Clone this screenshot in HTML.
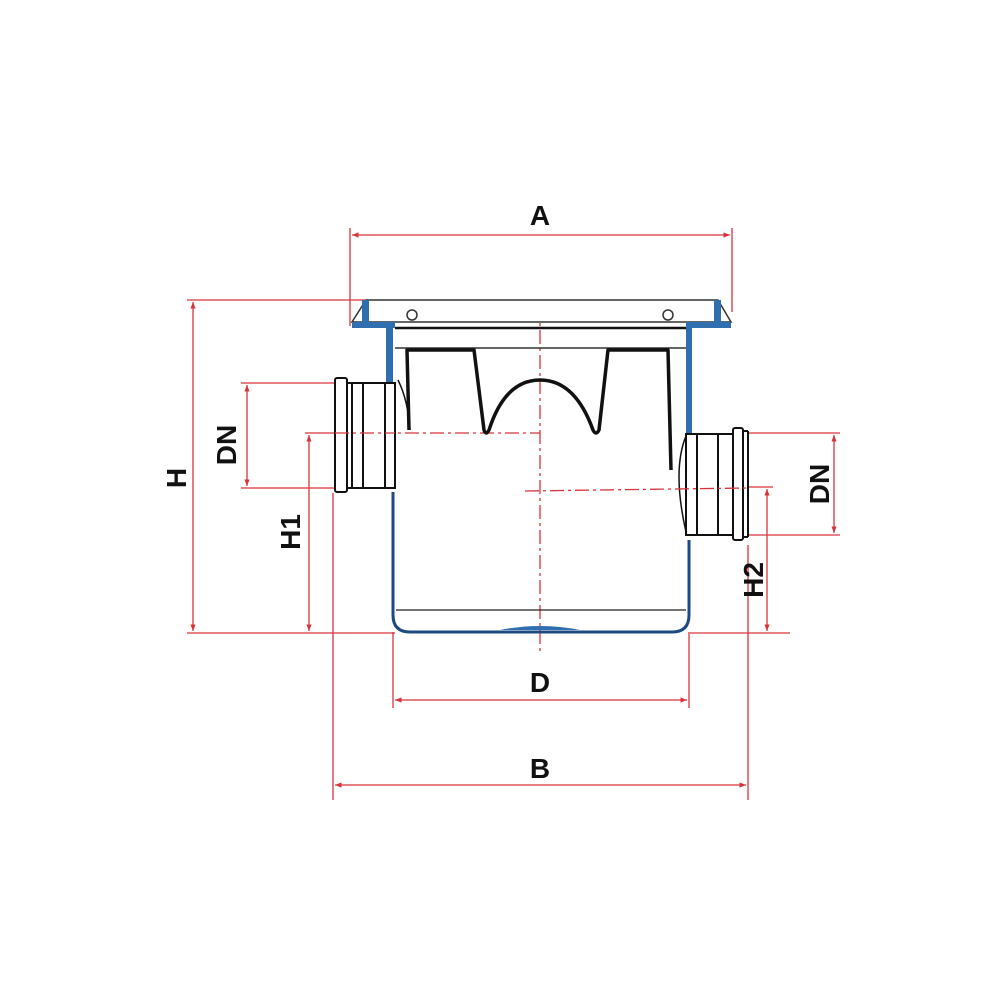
<!DOCTYPE html>
<html><head><meta charset="utf-8"><style>html,body{margin:0;padding:0;background:#fff}svg{display:block}</style></head>
<body>
<svg width="1000" height="1000" viewBox="0 0 1000 1000" xmlns="http://www.w3.org/2000/svg" font-family="Liberation Sans, sans-serif" font-weight="bold">
<defs>
<marker id="ar" viewBox="0 0 10 10" refX="10" refY="5" markerWidth="8" markerHeight="5" orient="auto-start-reverse"><path d="M0,1 L10,5 L0,9z" fill="#d8343c"/></marker>
</defs>
<g stroke="#d8343c" stroke-width="1.3" fill="none">
<line x1="350" y1="228" x2="350" y2="326"/><line x1="732" y1="228" x2="732" y2="312"/>
<line x1="352" y1="235" x2="730" y2="235" marker-start="url(#ar)" marker-end="url(#ar)"/>
<line x1="187" y1="300" x2="368" y2="300"/><line x1="187" y1="633" x2="395" y2="633"/>
<line x1="193" y1="302" x2="193" y2="631" marker-start="url(#ar)" marker-end="url(#ar)"/>
<line x1="241" y1="383" x2="335" y2="383"/><line x1="241" y1="488" x2="335" y2="488"/>
<line x1="247" y1="385" x2="247" y2="486" marker-start="url(#ar)" marker-end="url(#ar)"/>
<line x1="305" y1="433" x2="330" y2="433"/>
<line x1="309" y1="435" x2="309" y2="631" marker-start="url(#ar)" marker-end="url(#ar)"/>
<line x1="333" y1="493" x2="333" y2="800"/>
<line x1="335" y1="785" x2="746" y2="785" marker-start="url(#ar)" marker-end="url(#ar)"/>
<line x1="748" y1="545" x2="748" y2="800"/>
<line x1="393" y1="632" x2="393" y2="708"/><line x1="689" y1="632" x2="689" y2="708"/>
<line x1="395" y1="700" x2="687" y2="700" marker-start="url(#ar)" marker-end="url(#ar)"/>
<line x1="690" y1="633" x2="790" y2="633"/>
<line x1="748" y1="433" x2="840" y2="433"/><line x1="748" y1="535" x2="840" y2="535"/>
<line x1="834" y1="435" x2="834" y2="533" marker-start="url(#ar)" marker-end="url(#ar)"/>
<line x1="748" y1="487" x2="773" y2="487"/>
<line x1="767" y1="489" x2="767" y2="631" marker-start="url(#ar)" marker-end="url(#ar)"/>
<line x1="540" y1="305" x2="540" y2="652" stroke-dasharray="14,4,3,4"/>
<line x1="330" y1="433" x2="540" y2="433" stroke-dasharray="14,4,3,4"/>
</g>
<g stroke="#333" stroke-width="1.5" fill="none">
<path d="M366,300 L718,300 L731,322 L352,322 Z" fill="#fff"/>
<line x1="395" y1="328" x2="690" y2="328" stroke-width="2.5" stroke="#111"/>
<line x1="395" y1="348" x2="688" y2="348"/>
<circle cx="412" cy="315" r="5"/><circle cx="668" cy="315" r="5"/>
</g>
<g fill="#2f6fb0">
<path d="M362,300 L369,300 L369,322 L395,322 L395,328 L352,328 L352,322 L362,322Z"/>
<path d="M714,300 L721,300 L721,322 L731,322 L731,328 L686,328 L686,322 L714,322Z"/>
<rect x="386" y="328" width="7" height="57"/>
<rect x="686" y="328" width="6" height="108"/>
</g>
<path d="M393,492 L393,615 Q393,632 410,632 L672,632 Q689,632 689,615 L689,540" fill="none" stroke="#1d4a80" stroke-width="3"/>
<path d="M500,630 Q540,622 580,630 Z" fill="#2f6fb0"/>
<line x1="396" y1="610" x2="686" y2="610" stroke="#222" stroke-width="1.2"/>
<g fill="none" stroke="#111" stroke-width="3.5" stroke-linejoin="round">
<path d="M409,430 L407,350 L474,350 L484,430 Q486,436 489,430 Q505,380 540,380 Q575,380 593,430 Q596,436 599,430 L608,350 L668,350 L671,470"/>
<path d="M398,380 Q408,400 410,430" stroke-width="1.5"/>
</g>
<g stroke="#111" stroke-width="2" fill="#fff">
<rect x="345" y="383" width="50" height="105"/>
<rect x="335" y="378" width="12" height="114" rx="2"/>
<line x1="352" y1="383" x2="352" y2="488"/><line x1="363" y1="383" x2="363" y2="488"/><line x1="385" y1="383" x2="385" y2="488"/>
</g>
<g stroke="#111" stroke-width="2" fill="#fff">
<rect x="686" y="434" width="47" height="101"/>
<rect x="733" y="428" width="10" height="112" rx="2"/>
<line x1="743" y1="431" x2="748" y2="431"/><line x1="748" y1="431" x2="748" y2="537"/><line x1="743" y1="537" x2="748" y2="537"/>
<line x1="697" y1="434" x2="697" y2="535"/><line x1="718" y1="434" x2="718" y2="535"/>
<path d="M686,436 Q672,470 686,532" fill="none" stroke-width="1.5"/>
</g>
<line x1="525" y1="491" x2="748" y2="488" stroke="#d8343c" stroke-width="1.3" stroke-dasharray="14,4,3,4"/>
<line x1="335" y1="433" x2="395" y2="433" stroke="#d8343c" stroke-width="1.3" stroke-dasharray="14,4,3,4"/>
<g fill="#111" font-size="28">
<text x="540" y="225" text-anchor="middle">A</text>
<text x="540" y="692" text-anchor="middle">D</text>
<text x="540" y="778" text-anchor="middle">B</text>
<text transform="translate(186,478) rotate(-90)" text-anchor="middle">H</text>
<text transform="translate(236,445) rotate(-90)" text-anchor="middle">DN</text>
<text transform="translate(300,532) rotate(-90)" text-anchor="middle">H1</text>
<text transform="translate(829,484) rotate(-90)" text-anchor="middle">DN</text>
<text transform="translate(763,580) rotate(-90)" text-anchor="middle">H2</text>
</g>
</svg>
</body></html>
